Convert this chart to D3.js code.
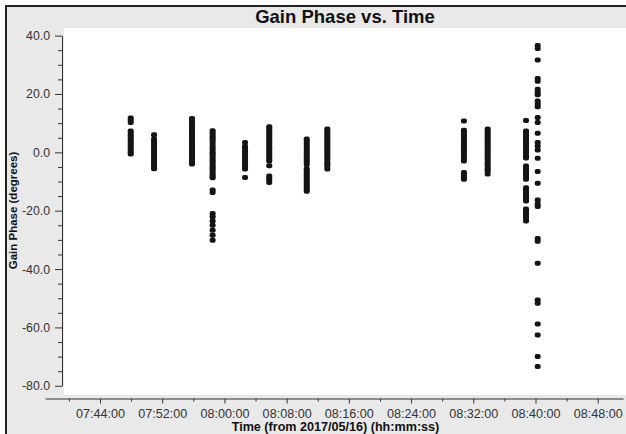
<!DOCTYPE html>
<html><head><meta charset="utf-8">
<script src="https://cdn.jsdelivr.net/npm/d3@7"></script>
<style>html,body{margin:0;padding:0;background:#fff;overflow:hidden}svg{display:block}</style>
</head><body><svg id="chart" width="626" height="434"></svg>
<script>
// ---- data ----
const scanTimes = ["07:47:57","07:50:57","07:55:50","07:58:29","08:02:39","08:05:46",
                   "08:10:35","08:13:14","08:30:48","08:33:51","08:38:47","08:40:17"];
const phaseScan1  = [11.8,11.0,10.2,7.3,6.5,5.7,4.9,4.1,3.3,2.5,1.7,0.9,0.1,-0.6];
const phaseScan2  = [6.0,4.6,3.8,3.0,2.2,1.4,0.6,-0.2,-1.0,-1.8,-2.6,-3.4,-4.2,-5.0,-5.6];
const phaseScan3  = [11.6,10.8,10.0,9.2,8.4,7.6,6.8,6.0,5.2,4.4,3.6,2.8,2.0,1.2,0.4,-0.4,-1.2,-2.0,-2.8,-3.6,-4.0];
const phaseScan4  = [7.4,6.6,5.8,5.0,4.2,3.4,2.3,1.5,0.7,-0.1,-0.9,-1.7,-2.5,-3.3,-4.1,-4.9,-5.7,-6.5,-7.3,-8.1,-8.7,
                     -12.9,-13.8,-21.0,-22.1,-23.5,-25.0,-26.7,-28.4,-30.1];
const phaseScan5  = [3.4,2.1,1.3,0.5,-0.3,-1.1,-1.9,-2.7,-3.5,-4.3,-5.1,-5.7,-8.6];
const phaseScan6  = [8.8,8.0,7.2,6.4,5.6,4.8,4.0,3.2,2.4,1.6,0.8,0.0,-0.8,-1.6,-2.4,-3.0,-4.6,-8.1,-8.9,-9.6,-10.3];
const phaseScan7  = [4.6,3.8,3.0,2.2,1.4,0.6,-0.2,-1.0,-1.8,-2.6,-3.4,-4.2,-5.6,-6.4,-7.2,-8.0,-8.8,-9.6,-10.4,-11.2,-12.0,-12.7,-13.3];
const phaseScan8  = [8.0,7.2,6.4,5.6,4.8,4.0,3.2,2.4,1.6,0.8,0.0,-0.8,-1.6,-2.4,-3.2,-4.0,-4.8,-5.7];
const phaseScan9  = [10.7,7.6,6.8,6.0,5.2,4.4,3.6,2.8,2.0,1.2,0.4,-0.4,-1.2,-2.0,-3.0,-6.9,-7.7,-8.5,-9.2];
const phaseScan10 = [8.0,7.2,6.4,5.6,4.8,4.0,3.2,2.4,1.6,0.8,0.0,-0.8,-1.6,-2.4,-3.2,-4.0,-4.8,-5.6,-6.4,-7.4];
const phaseScan11 = [10.9,7.3,6.5,5.7,4.9,4.1,3.3,2.5,1.7,0.9,0.1,-0.7,-1.5,-1.9,-4.7,-5.5,-6.3,-7.1,-7.9,-8.7,-9.2,
                     -12.1,-12.9,-13.7,-14.5,-15.3,-16.1,-16.7,-19.4,-20.2,-21.0,-21.8,-22.6,-23.5];
const phaseScan12 = [36.6,35.6,31.6,25.3,24.4,21.6,20.6,19.7,17.6,16.6,15.6,11.9,10.2,6.5,3.4,2.2,0.8,-2.0,-6.6,-10.6,
                     -16.3,-17.7,-18.6,-29.5,-30.5,-38.0,-50.6,-51.7,-58.8,-62.6,-70.0,-73.4];
const phaseByScan = [phaseScan1,phaseScan2,phaseScan3,phaseScan4,phaseScan5,phaseScan6,
                     phaseScan7,phaseScan8,phaseScan9,phaseScan10,phaseScan11,phaseScan12];
const yTickValues = [40,20,0,-20,-40,-60,-80];
const xTickLabels = ["07:44:00","07:52:00","08:00:00","08:08:00","08:16:00","08:24:00","08:32:00","08:40:00","08:48:00"];
const chartTitle = "Gain Phase vs. Time";
const xTitle = "Time (from 2017/05/16) (hh:mm:ss)";
const yTitle = "Gain Phase (degrees)";

// ---- drawing ----
const parse = d3.timeParse("%H:%M:%S");
const svg = d3.select("#chart");
const font = "'Liberation Sans', Arial, Helvetica, sans-serif";

svg.append("rect").attr("x",0).attr("y",0).attr("width",626).attr("height",434).attr("fill","#ffffff");
svg.append("rect").attr("x",6).attr("y",6).attr("width",620).attr("height",428).attr("fill","#e9e9e9");
svg.append("path").attr("d","M6,434V6H626").attr("fill","none").attr("stroke","#222").attr("stroke-width",2);
svg.append("rect").attr("x",64).attr("y",28).attr("width",562).attr("height",367).attr("fill","#ffffff");

const xTicks = xTickLabels.map(parse);
const x = d3.scaleTime().domain([xTicks[0], xTicks[xTicks.length-1]]).range([100, 597.7]);
x.domain([x.invert(45), x.invert(623)]).range([45, 623]);
const y = d3.scaleLinear().domain([-80, 40]).range([385.8, 35.6]);

// y axis
const yMinor = d3.range(-80, 40.1, 5).filter(v => v % 20 !== 0);
const yAxisMinor = svg.append("g").attr("transform","translate(62,0)")
  .call(d3.axisLeft(y).tickValues(yMinor).tickSize(4).tickFormat(""));
yAxisMinor.select(".domain").remove();
const yAxis = svg.append("g").attr("transform","translate(62,0)")
  .call(d3.axisLeft(y).tickValues(yTickValues).tickSize(7).tickSizeOuter(0).tickPadding(5).tickFormat(d => d.toFixed(1)));
yAxis.selectAll("text").attr("font-family",font).attr("font-size",12.3).attr("fill","#333");

// x axis
const xMinor = xTicks.map(t => d3.timeMinute.offset(t, -4)).concat([d3.timeMinute.offset(xTicks[xTicks.length-1], 4)])
  .filter(t => x(t) >= 45 && x(t) <= 623);
const xAxisMinor = svg.append("g").attr("transform","translate(0,398.5)")
  .call(d3.axisBottom(x).tickValues(xMinor).tickSize(3).tickFormat(""));
xAxisMinor.select(".domain").remove();
const xAxis = svg.append("g").attr("transform","translate(0,398.5)")
  .call(d3.axisBottom(x).tickValues(xTicks).tickSize(5).tickSizeOuter(0).tickPadding(6).tickFormat(d3.timeFormat("%H:%M:%S")));
xAxis.selectAll("text").attr("font-family",font).attr("font-size",12.6).attr("fill","#333");
svg.selectAll("g path, g line").attr("stroke","#333");

// points
const pts = [];
scanTimes.forEach((t, i) => phaseByScan[i].forEach(v => pts.push({t: parse(t), v})));
svg.append("g").selectAll("rect").data(pts).enter().append("rect")
  .attr("x", d => x(d.t) - 3).attr("y", d => y(d.v) - 2.5)
  .attr("width", 6).attr("height", 5).attr("rx", 2).attr("ry", 2)
  .attr("fill", "#141414");

// titles
svg.append("text").attr("x",345).attr("y",23).attr("text-anchor","middle")
  .attr("font-family",font).attr("font-weight","bold").attr("font-size",18.5).attr("fill","#111").text(chartTitle);
svg.append("text").attr("x",335.5).attr("y",431).attr("text-anchor","middle")
  .attr("font-family",font).attr("font-weight","bold").attr("font-size",12.6).attr("fill","#111").text(xTitle);
svg.append("text").attr("transform","translate(17,210.5) rotate(-90)").attr("text-anchor","middle")
  .attr("font-family",font).attr("font-weight","bold").attr("font-size",11.5).attr("fill","#111").text(yTitle);
</script></body></html>
